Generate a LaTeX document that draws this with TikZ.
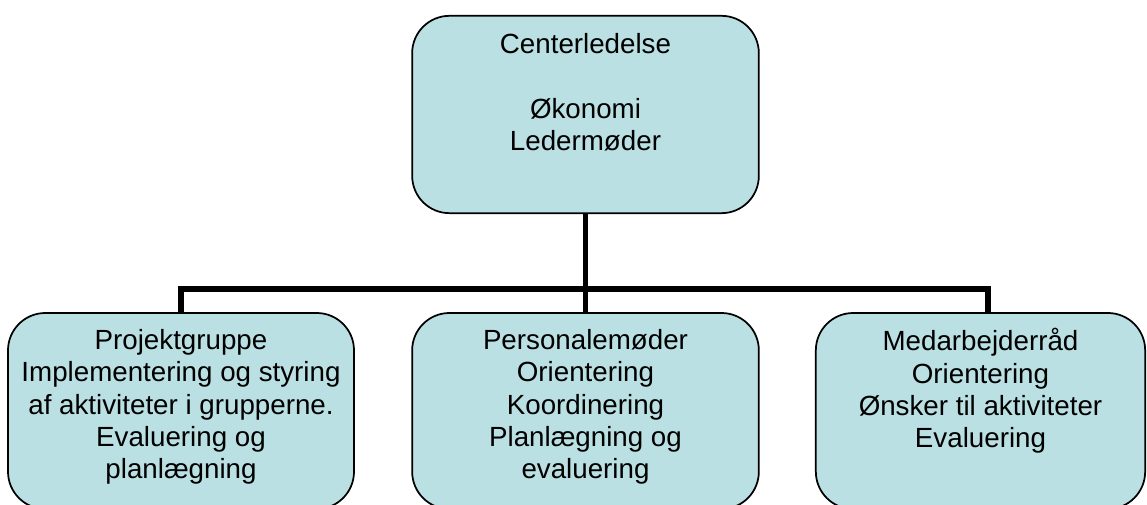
\documentclass[tikz,border=0pt]{standalone}
\usepackage{fontspec}
\setmainfont{Liberation Sans}
\usetikzlibrary{positioning}
\definecolor{boxfill}{RGB}{186,224,227}

\tikzset{
  orgbox/.style={draw=black, line width=1.3pt, fill=boxfill, rounded corners=28pt, inner sep=0pt, minimum height=147pt},
  orgtext/.style={align=center, inner sep=0pt, font=\fontsize{20.8}{24.3}\selectfont},
  orgline/.style={line width=3.8pt}
}

\begin{document}
\begin{tikzpicture}[x=0.75pt,y=0.75pt,yscale=-1]
  \clip (0,0) rectangle (1147,505);
  \useasboundingbox (0,0) rectangle (1147,505);

  % boxes
  \node[orgbox, minimum width=260pt, minimum height=148pt] (top) at (585.5,114.5) {};
  \node[orgbox, minimum width=259.5pt] (left) at (181,411) {};
  \node[orgbox, minimum width=260pt] (mid) at (585.5,411) {};
  \node[orgbox, minimum width=247pt] (right) at (980.5,411) {};

  % texts
  \node[orgtext, anchor=north] (toptext) at (585.5,33) {Centerledelse\\\mbox{}\\Økonomi\\Ledermøder};
  \node[orgtext, anchor=north] (lefttext) at (181,329) {Projektgruppe\\Implementering og styring\\af aktiviteter i grupperne.\\Evaluering og\\planlægning};
  \node[orgtext, anchor=north] (midtext) at (585.5,329) {Personalemøder\\Orientering\\Koordinering\\Planlægning og\\evaluering};
  \node[orgtext, anchor=north] (righttext) at (980.5,328) {Medarbejderråd\\Orientering\\Ønsker til aktiviteter\\Evaluering};

  % connectors
  \coordinate (bus) at (585.5,289);
  \draw[orgline] (top.south) -- (bus);
  \draw[orgline] (left.north) |- (bus) -| ([xshift=5.6pt]right.north);
  \draw[orgline] (bus) -- (mid.north);
\end{tikzpicture}
\end{document}
